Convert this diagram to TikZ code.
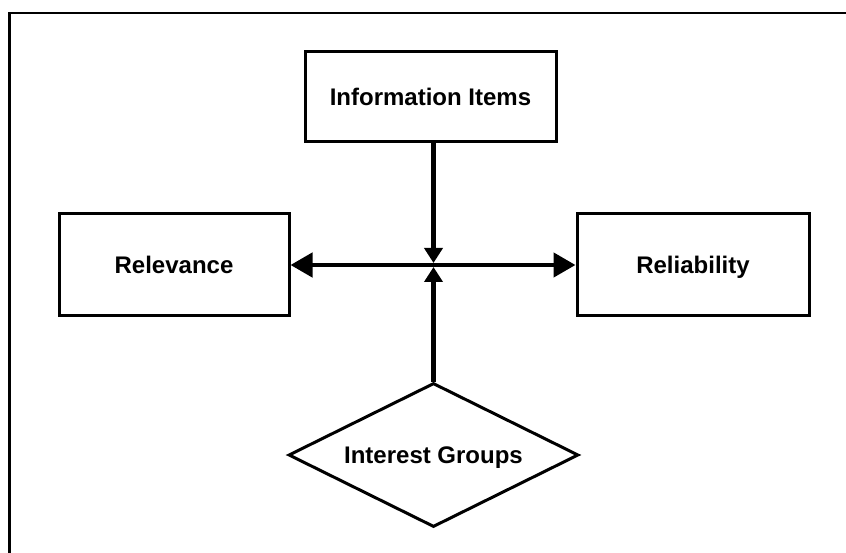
\documentclass[tikz,border=0pt]{standalone}
\usepackage{fontspec}
\setmainfont{Liberation Sans}
\usetikzlibrary{shapes.geometric,arrows.meta}
\tikzset{
  labelfont/.style={font=\fontsize{24}{28}\selectfont\bfseries, text height=17pt, text depth=0pt},
  boxnode/.style={draw, line width=3pt, rectangle, inner sep=0pt, labelfont},
  decision/.style={draw, line width=3pt, diamond, shape aspect=2, inner sep=0pt, minimum width=290pt, minimum height=144pt, labelfont},
  conn/.style={line width=4.5pt},
  bothtip/.style={{Triangle[length=22pt,width=24pt]}-{Triangle[length=22pt,width=24pt]}},
  smalltip/.style={-{Triangle[length=15pt,width=18pt]}},
  frameline/.style={line width=2.8pt}
}
\begin{document}
\begin{tikzpicture}[x=1pt,y=-1pt]
\useasboundingbox (0,0) rectangle (846,553);
% frame (top and left)
\coordinate (fr) at (846,13);
\coordinate (fc) at (9.5,13);
\coordinate (fb) at (9.5,553);
\draw[frameline] (fr) -- (fc) -- (fb);
% nodes
\node[boxnode, minimum width=251pt, minimum height=90pt] (info) at (430.5,97) {Information Items};
\node[boxnode, minimum width=230pt, minimum height=102pt] (rel) at (174,265) {Relevance};
\node[boxnode, minimum width=232pt, minimum height=102pt] (reli) at (693,265) {Reliability};
\node[decision] (ig) at (433.5,455) {Interest Groups};
% junction points
\coordinate (jt) at (433.5,263);
\coordinate (jb) at (433.5,267);
% connectors
\draw[conn, bothtip] (rel.east) -- (reli.west);
\draw[conn, smalltip] (info.south -| jt) -- (jt);
\draw[conn, smalltip] (ig.north) -- (jb);
\end{tikzpicture}
\end{document}
